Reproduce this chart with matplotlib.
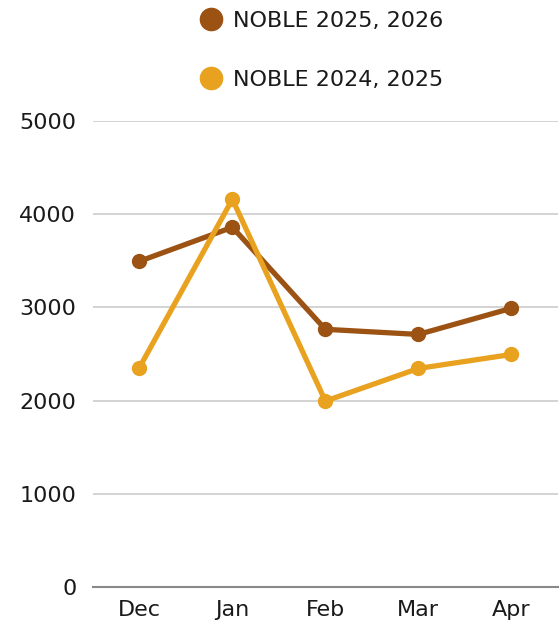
import matplotlib
matplotlib.use("Agg")
import matplotlib.pyplot as plt
from matplotlib.lines import Line2D

plt.rcParams['font.family'] = ['DejaVu Sans']

# data
months = ['Dec', 'Jan', 'Feb', 'Mar', 'Apr']
noble_2025_2026 = [3495, 3860, 2765, 2710, 2990]
noble_2024_2025 = [2355, 4160, 1995, 2345, 2495]
label_new = 'NOBLE 2025, 2026'
label_old = 'NOBLE 2024, 2025'
brown = '#9B5213'
gold = '#E9A21F'

fig = plt.figure(figsize=(5.6, 6.25), dpi=100)
ax = fig.add_axes([0.166, 0.0608, 0.83, 0.7456])

x = range(len(months))
ax.plot(x, noble_2025_2026, color=brown, lw=3.8, marker='o', ms=10, zorder=3)
ax.plot(x, noble_2024_2025, color=gold, lw=3.8, marker='o', ms=10, zorder=4)

ax.set_xlim(-0.5, len(months) - 0.5)
ax.set_ylim(0, 5000)
ax.set_yticks(range(0, 5001, 1000))
ax.set_xticks(list(x))
ax.set_xticklabels(months)
ax.grid(axis='y', color='#cccccc', lw=1.2)
ax.set_axisbelow(True)
for s in ['top', 'right', 'left']:
    ax.spines[s].set_visible(False)
ax.spines['bottom'].set_color('#888888')
ax.spines['bottom'].set_linewidth(1.5)
ax.tick_params(length=0, labelsize=16, colors='#1a1a1a')
ax.tick_params(axis='y', pad=12)
ax.tick_params(axis='x', pad=9)

handles = [Line2D([], [], color=brown, marker='o', ls='none', ms=16),
           Line2D([], [], color=gold, marker='o', ls='none', ms=16)]
fig.legend(handles, [label_new, label_old], loc='upper center',
           bbox_to_anchor=(0.570, 1.015), frameon=False, fontsize=16,
           labelspacing=1.75, handlelength=1.4, handletextpad=0.3,
           labelcolor='#1a1a1a')

fig.savefig('out.png', dpi=100)
